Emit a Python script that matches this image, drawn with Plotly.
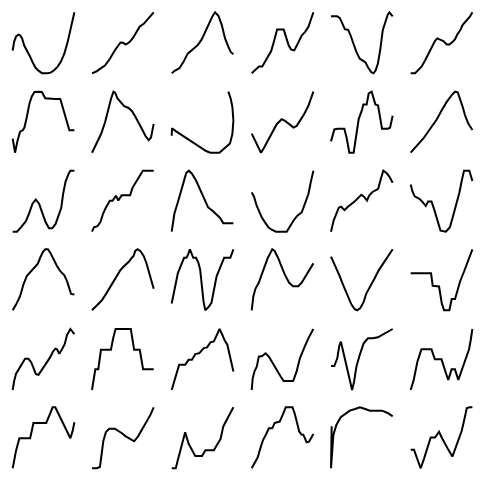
import plotly.graph_objects as go

# Each panel: x positions and y values (arbitrary units)
p01_x = [0,4,10,17,22,28,34,42,50,58,67,77,87,102,112,122,132,142,152,162,172,182]
p01_y = [67,92,109,114,112,102,82,69,52,34,17,7,0,0,2,9,19,34,57,92,132,180]
p02_x = [0,14,24,39,54,69,86,94,102,114,124,134,144,156,164,174,186]
p02_y = [0,6,13,23,43,68,91,90,85,93,105,123,138,146,156,168,180]
p03_x = [0,10,23,35,48,63,78,90,100,110,122,130,140,150,160,170,177,185]
p03_y = [0,8,15,33,58,71,83,100,123,146,168,180,170,143,103,78,63,56]
p04_x = [0,12,22,32,39,49,59,67,77,87,97,104,112,119,129,137,145,152,162,172,179,187]
p04_y = [0,11,20,20,33,48,66,93,130,130,130,108,83,71,68,83,100,113,123,138,158,181]
p05_x = [0,19,27,35,42,52,59,67,77,87,97,104,112,122,129,135,142,149,157,165,172,177,182,187]
p05_y = [168,168,163,146,130,128,113,90,63,43,36,33,18,3,0,8,28,68,128,153,173,180,173,168]
p06_x = [0,13,23,33,43,53,63,73,80,88,98,108,116,126,133,140,148,156,168,178,185]
p06_y = [0,0,10,20,38,58,78,96,103,100,95,85,85,93,101,115,126,143,156,168,180]

p07_x = [0,7,14,22,30,35,42,50,57,65,77,87,97,112,127,142,152,162,169,177,184]
p07_y = [43,2,35,63,67,75,105,145,165,178,179,178,160,158,158,158,125,90,67,67,67]
p08_x = [0,14,27,39,49,57,64,69,76,86,96,109,119,129,139,149,159,169,176,184]
p08_y = [0,27,55,90,130,160,180,177,160,147,137,132,123,107,90,70,50,37,45,85]
p09_x = [2,3,15,30,45,60,75,90,103,115,142,157,173,180,183,180,175,168]
p09_y = [50,72,63,53,43,33,23,12,5,0,0,13,27,55,95,135,160,180]
p10_x = [0,13,28,37,50,63,75,90,100,113,125,135,145,157,170,177,185]
p10_y = [57,30,0,15,40,65,85,100,95,85,75,80,95,115,140,160,182]
p11_x = [0,10,20,40,47,55,68,75,83,93,97,107,113,122,127,133,141,153,170,177,185]
p11_y = [35,70,72,72,45,2,2,50,100,127,143,143,175,180,165,143,140,72,72,75,110]
p12_x = [0,18,38,58,78,93,108,123,133,141,148,156,163,173,185]
p12_y = [0,20,42,70,98,125,150,170,180,178,160,135,110,85,67]

p13_x = [0,13,25,40,50,60,70,80,90,100,110,120,130,137,147,153,160,170,175,187]
p13_y = [0,0,13,31,55,83,95,83,55,28,10,10,23,43,70,113,148,173,181,181]
p14_x = [0,6,16,25,33,41,53,61,71,78,88,98,113,120,133,143,151,168,183]
p14_y = [0,13,16,28,53,70,90,90,105,91,106,106,106,128,148,163,178,178,178]
p15_x = [0,8,18,28,36,43,51,61,73,86,98,108,121,133,143,153,168,183]
p15_y = [0,53,85,118,148,171,178,168,148,118,93,71,61,51,41,25,25,25]
p16_x = [0,2,7,15,23,30,40,50,60,73,105,115,125,137,150,160,170,177,185]
p16_y = [118,113,105,78,58,43,28,13,6,0,0,18,33,48,58,85,113,148,183]
p17_x = [0,8,17,23,30,40,50,60,70,80,90,97,107,113,123,133,140,147,155,165,173,183]
p17_y = [0,33,55,70,73,63,73,80,88,98,108,103,91,105,116,121,125,151,178,171,161,143]
p18_x = [0,5,12,27,37,45,52,62,70,79,89,105,117,127,135,145,152,159,175,184]
p18_y = [138,118,103,95,85,75,88,88,65,35,3,0,13,48,78,113,148,178,178,148]

p19_x = [0,10,22,32,42,55,67,75,82,90,97,105,112,122,132,142,154,162,169,174,184]
p19_y = [0,17,42,77,102,117,129,139,157,174,182,182,172,150,132,117,104,87,67,49,47]
p20_x = [0,14,29,42,57,72,84,96,109,119,124,129,136,144,154,162,169,176,184]
p20_y = [0,15,29,49,74,99,119,132,144,157,162,177,182,177,162,142,119,94,64]
p21_x = [2,10,20,30,38,45,50,55,60,65,73,80,85,90,95,100,110,118,125,133,145,155,173,182]
p21_y = [22,67,112,137,157,157,167,182,167,157,157,142,122,72,27,2,12,24,62,102,132,157,157,182]
p22_x = [2,7,13,23,30,40,50,58,63,70,80,90,100,113,125,140,150,165,175,185]
p22_y = [0,42,64,82,102,132,157,172,182,177,157,132,107,82,72,72,82,107,122,140]
p23_x = [0,12,25,37,49,62,72,79,89,99,107,119,132,145,155,167,177,187]
p23_y = [162,137,107,77,47,19,5,2,9,27,52,72,97,122,137,152,170,184]
p24_x = [0,18,38,61,66,78,85,93,100,116,123,133,138,148,160,173,185]
p24_y = [112,112,112,112,74,72,72,22,0,0,34,34,52,87,117,152,184]

p25_x = [0,4,10,20,29,37,47,55,62,69,77,84,92,102,112,120,127,132,139,147,155,162,172,184]
p25_y = [0,25,48,65,80,92,92,82,65,47,45,55,67,82,97,113,122,120,107,120,135,162,180,165]
p26_x = [0,6,10,19,27,39,57,64,71,94,117,127,144,154,169,186]
p26_y = [0,35,62,62,120,120,120,155,182,182,182,120,120,62,62,62]
p27_x = [0,10,22,40,50,60,70,82,95,105,115,125,133,142,150,157,165,173,183]
p27_y = [0,35,75,75,90,90,107,110,125,127,142,145,165,182,165,148,135,100,55]
p28_x = [2,5,10,17,23,33,43,53,62,70,80,87,97,110,125,135,145,157,170,185]
p28_y = [0,35,55,70,100,102,110,100,85,70,52,42,27,27,27,55,95,125,155,183]
p29_x = [0,10,19,25,30,37,47,57,64,70,77,87,99,112,127,142,155,172,187]
p29_y = [72,72,95,132,145,115,70,30,0,25,70,105,140,155,155,158,165,173,183]
p30_x = [0,9,20,32,47,62,72,92,102,112,122,132,142,152,162,174,179,184]
p30_y = [0,30,85,122,122,122,92,92,60,30,62,62,30,60,92,122,150,183]

p31_x = [0,5,10,20,35,52,62,82,100,110,119,127,137,149,160,172,179,184]
p31_y = [0,33,53,90,90,90,136,136,136,160,183,183,163,140,116,90,113,138]
p32_x = [0,14,24,29,34,42,52,69,79,89,102,116,127,139,152,164,176,186]
p32_y = [1,1,5,43,83,111,121,121,115,108,98,91,83,98,120,140,163,186]
p33_x = [0,12,20,30,40,50,60,70,83,90,100,113,125,135,145,153,165,175,183]
p33_y = [1,1,33,73,110,76,56,38,38,38,56,56,56,73,90,128,150,170,186]
p34_x = [2,10,20,27,35,45,53,63,70,77,85,93,103,115,123,130,137,143,150,155,160,165,172,178,185]
p34_y = [0,15,33,58,83,103,120,120,136,138,140,158,183,183,183,163,133,110,101,101,90,78,80,93,103]
p35_x = [3,1,8,17,30,43,57,73,87,103,117,135,153,170,185]
p35_y = [126,0,100,130,153,163,173,178,183,178,173,173,173,166,156]
p36_x = [0,10,20,30,40,50,60,73,85,93,103,113,125,133,140,146,153,160,168,176,185]
p36_y = [56,56,28,1,30,60,93,93,110,93,73,56,36,58,83,98,113,143,180,183,183]

panels = [
    (p01_x, p01_y), (p02_x, p02_y), (p03_x, p03_y), (p04_x, p04_y), (p05_x, p05_y), (p06_x, p06_y),
    (p07_x, p07_y), (p08_x, p08_y), (p09_x, p09_y), (p10_x, p10_y), (p11_x, p11_y), (p12_x, p12_y),
    (p13_x, p13_y), (p14_x, p14_y), (p15_x, p15_y), (p16_x, p16_y), (p17_x, p17_y), (p18_x, p18_y),
    (p19_x, p19_y), (p20_x, p20_y), (p21_x, p21_y), (p22_x, p22_y), (p23_x, p23_y), (p24_x, p24_y),
    (p25_x, p25_y), (p26_x, p26_y), (p27_x, p27_y), (p28_x, p28_y), (p29_x, p29_y), (p30_x, p30_y),
    (p31_x, p31_y), (p32_x, p32_y), (p33_x, p33_y), (p34_x, p34_y), (p35_x, p35_y), (p36_x, p36_y),
]

W, H = 485, 482
col_left = [12.7, 92.0, 171.7, 251.7, 331.0, 410.7]
col_w = 61.7
row_top = [12.3, 91.7, 170.7, 249.3, 329.0, 407.3]
row_h = 61.0
PAD = 0.04

fig = go.Figure()
layout = dict(width=W, height=H, margin=dict(l=0, r=0, t=0, b=0),
              paper_bgcolor="white", plot_bgcolor="white", showlegend=False)

for i, (xs, ys) in enumerate(panels):
    r, c = divmod(i, 6)
    n = i + 1
    xa = "x" if n == 1 else f"x{n}"
    ya = "y" if n == 1 else f"y{n}"
    fig.add_trace(go.Scatter(x=xs, y=ys, mode="lines", xaxis=xa, yaxis=ya,
                             line=dict(color="black", width=2), hoverinfo="skip"))
    x0, x1 = min(xs), max(xs)
    y0, y1 = min(ys), max(ys)
    dx, dy = (x1 - x0) * PAD, (y1 - y0) * PAD
    L = col_left[c] - col_w * PAD
    R = col_left[c] + col_w * (1 + PAD)
    T = row_top[r] - row_h * PAD
    B = row_top[r] + row_h * (1 + PAD)
    ax = dict(visible=False, showgrid=False, zeroline=False, fixedrange=True)
    layout["xaxis" if n == 1 else f"xaxis{n}"] = dict(
        ax, domain=[L / W, R / W], range=[x0 - dx, x1 + dx], anchor=ya)
    layout["yaxis" if n == 1 else f"yaxis{n}"] = dict(
        ax, domain=[1 - B / H, 1 - T / H], range=[y0 - dy, y1 + dy], anchor=xa)

fig.update_layout(**layout)
fig.write_html("out.html")
